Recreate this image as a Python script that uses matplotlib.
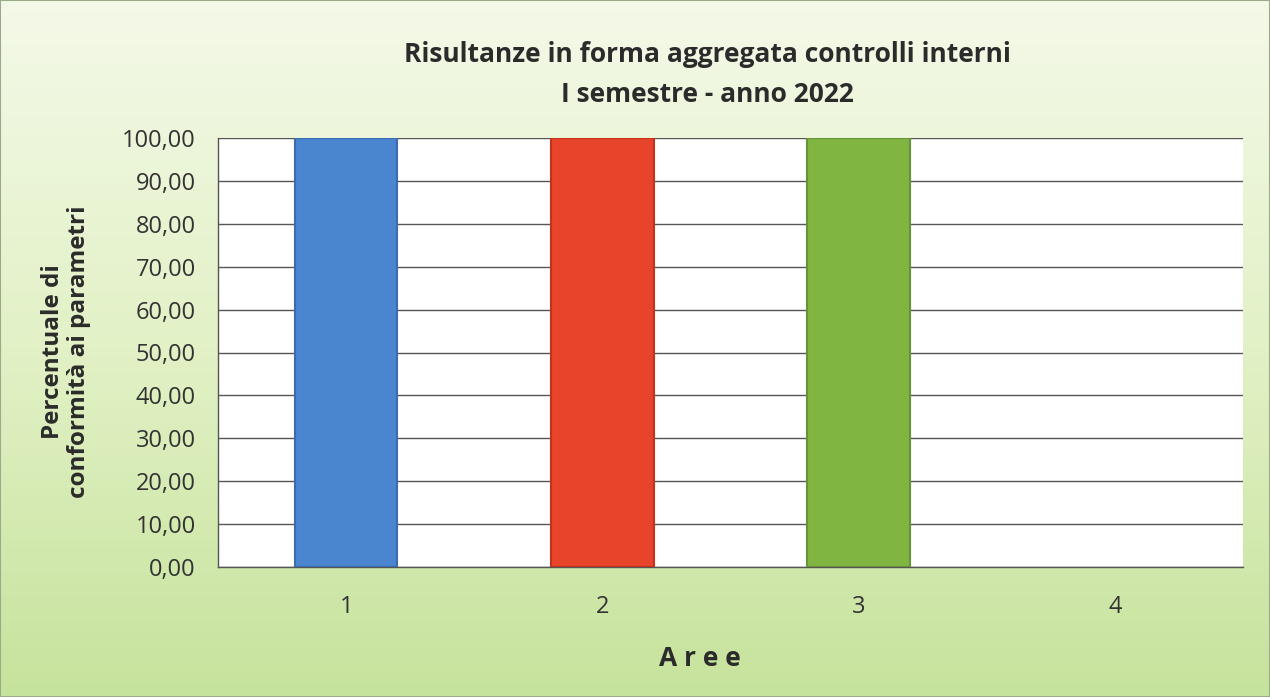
import numpy as np
import matplotlib.pyplot as plt
from matplotlib.colors import LinearSegmentedColormap

# dati
aree = ["1", "2", "3", "4"]
percentuali = [100.0, 100.0, 100.0, 0.0]
colori = ["#4a85cf", "#e8432b", "#80b541", "#8064a2"]
bordi = ["#3a6cae", "#c2321d", "#66943a", "none"]
y_ticks = [0, 10, 20, 30, 40, 50, 60, 70, 80, 90, 100]

plt.rcParams['font.family'] = ['Open Sans', 'DejaVu Sans']

fig = plt.figure(figsize=(12.7, 6.97), dpi=100)

# sfondo sfumato
bg = fig.add_axes([0, 0, 1, 1], zorder=-10)
grad = LinearSegmentedColormap.from_list("g", ["#f4f9e8", "#e2f1c6", "#c6e39c"])
bg.imshow(np.linspace(0, 1, 256).reshape(-1, 1), aspect="auto", cmap=grad,
          extent=[0, 1, 0, 1], origin="upper")
bg.set_xlim(0, 1); bg.set_ylim(0, 1)
for s in bg.spines.values():
    s.set_edgecolor("#9aaa8a"); s.set_linewidth(1.5)
bg.set_xticks([]); bg.set_yticks([])

ax = fig.add_axes([218/1270, 1-567/697, (1243-218)/1270, (567-138)/697])
ax.set_facecolor("white")

x = np.arange(len(aree))
bars = ax.bar(x, percentuali, width=0.4, color=colori, linewidth=1.5, zorder=3)
for b, e in zip(bars, bordi):
    b.set_edgecolor(e)
bars[-1].set_visible(percentuali[-1] > 0)

ax.set_xlim(-0.5, len(aree) - 0.5)
ax.set_ylim(0, 100)
ax.set_yticks(y_ticks)
ax.set_yticklabels([f"{v:.2f}".replace(".", ",") for v in y_ticks])
ax.set_xticks(x)
ax.set_xticklabels(aree)
ax.tick_params(axis="both", labelsize=17, colors="#333333", length=0)
ax.tick_params(axis="y", pad=16)
ax.tick_params(axis="x", pad=20)

ax.grid(axis="y", color="#555555", linewidth=1.0, zorder=0)
for side in ["top", "right"]:
    ax.spines[side].set_visible(False)
for side in ["left", "bottom"]:
    ax.spines[side].set_color("#555555")
    ax.spines[side].set_linewidth(1.0)

fig.text(707/1270, 1 - 55/697, "Risultanze in forma aggregata controlli interni",
         ha="center", va="center", fontsize=19, fontweight="bold", color="#2b2b2b")
fig.text(707/1270, 1 - 95/697, "I semestre - anno 2022",
         ha="center", va="center", fontsize=19, fontweight="bold", color="#2b2b2b")
fig.text(66/1270, 1 - 352/697, "Percentuale di\nconformità ai parametri",
         ha="center", va="center", rotation=90, fontsize=17.5, fontweight="bold",
         color="#2b2b2b", linespacing=1.1)
fig.text(700/1270, 1 - 658/697, "A r e e", ha="center", va="center",
         fontsize=19, fontweight="bold", color="#2b2b2b")

fig.savefig("out.png", dpi=100)
